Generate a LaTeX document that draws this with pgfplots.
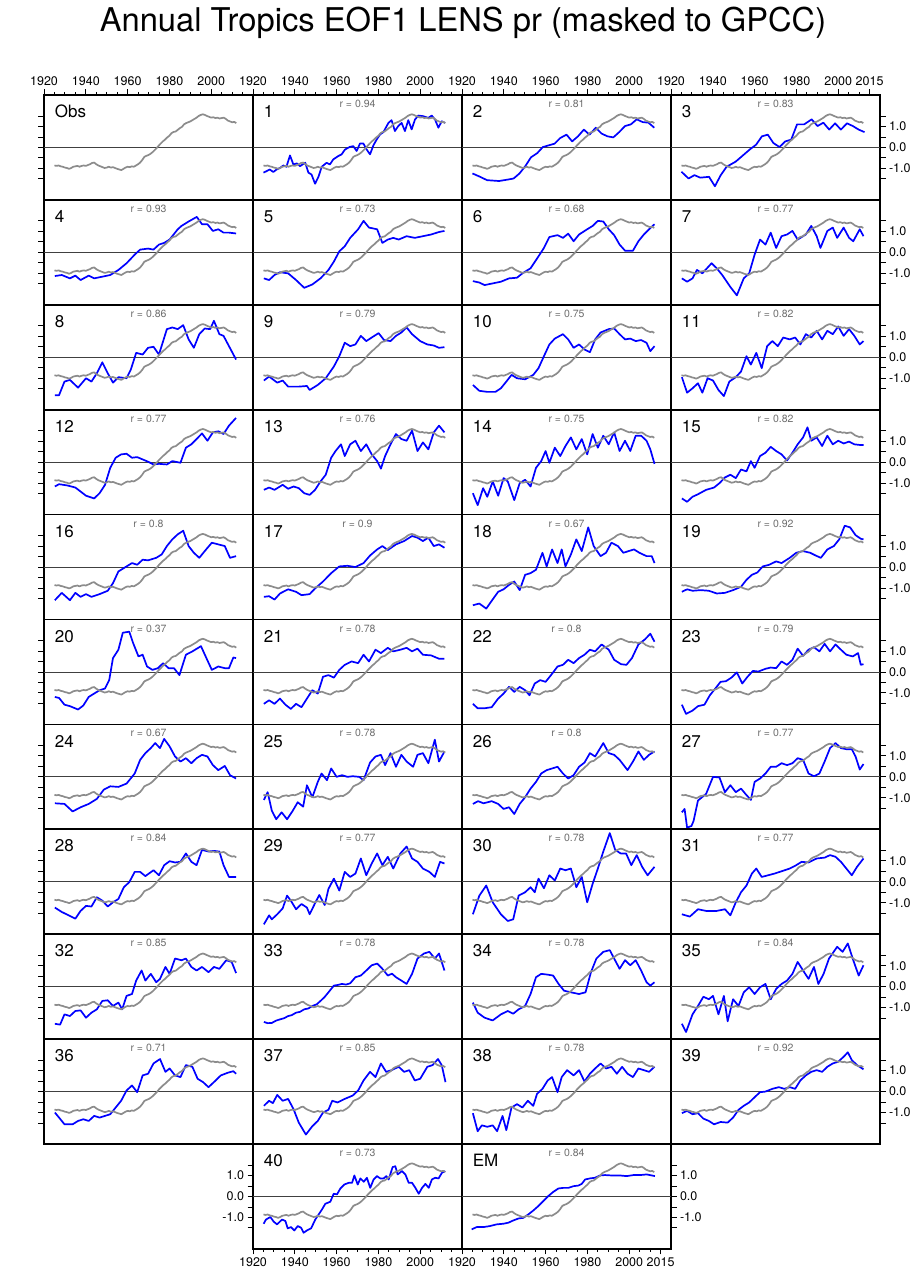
\documentclass[border=0pt]{standalone}
\usepackage{fontspec}
\setmainfont{TeX Gyre Heros}
\usepackage{pgfplots}
\usepackage{pgfplotstable}
\pgfplotsset{compat=1.18}
\definecolor{obsgray}{RGB}{140,140,140}
\definecolor{rgray}{RGB}{110,110,110}
\pgfplotstableread{
x y
1925 -0.86
1926 -0.88
1927 -0.86
1928 -0.90
1929 -0.92
1930 -0.96
1931 -0.98
1932 -1.02
1933 -0.98
1934 -0.92
1935 -0.90
1936 -0.88
1937 -0.92
1938 -0.88
1939 -0.86
1940 -0.88
1941 -0.84
1942 -0.80
1943 -0.74
1944 -0.72
1945 -0.80
1946 -0.86
1947 -0.90
1948 -0.94
1949 -0.98
1950 -0.96
1951 -0.92
1952 -0.96
1953 -0.94
1954 -0.98
1955 -1.02
1956 -1.05
1957 -1.08
1958 -1.02
1959 -0.96
1960 -0.92
1961 -0.94
1962 -0.90
1963 -0.92
1964 -0.86
1965 -0.80
1966 -0.72
1967 -0.60
1968 -0.45
1969 -0.40
1970 -0.36
1971 -0.30
1972 -0.22
1973 -0.12
1974 -0.02
1975 0.10
1976 0.20
1977 0.30
1978 0.38
1979 0.48
1980 0.56
1981 0.68
1982 0.74
1983 0.76
1984 0.84
1985 0.92
1986 0.98
1987 1.10
1988 1.16
1989 1.20
1990 1.24
1991 1.30
1992 1.36
1993 1.42
1994 1.50
1995 1.55
1996 1.58
1997 1.55
1998 1.50
1999 1.46
2000 1.42
2001 1.44
2002 1.40
2003 1.42
2004 1.38
2005 1.40
2006 1.42
2007 1.36
2008 1.28
2009 1.24
2010 1.20
2011 1.22
2012 1.16
}\obs
\pgfplotsset{
 panel/.style={anchor=north west, scale only axis, width=209pt, height=104.9pt,
   xmin=1920, xmax=2020, ymin=-2.5, ymax=2.5,
   axis line style={line width=1.7pt},
   xtick=\empty, ytick=\empty, tick align=outside,
   major tick length=5.5pt, minor tick length=3pt,
   tick style={black, line width=0.9pt},
   ticklabel style={font=\fontsize{12.5}{13}\selectfont},
   /pgf/number format/assume math mode=true},
 topx/.style={xtick={1920,1940,1960,1980,2000}, xticklabels={1920,1940,1960,1980,2000},
   minor xtick={1925,1930,1935,1945,1950,1955,1965,1970,1975,1985,1990,1995,2005,2010,2015},
   xtick pos=right, xticklabel pos=right},
 topxr/.style={xtick={1920,1940,1960,1980,2000,2015}, xticklabels={1920,1940,1960,1980,2000,2015},
   minor xtick={1925,1930,1935,1945,1950,1955,1965,1970,1975,1985,1990,1995,2005,2010},
   xtick pos=right, xticklabel pos=right},
 botx/.style={xtick={1920,1940,1960,1980,2000}, xticklabels={1920,1940,1960,1980,2000},
   minor xtick={1925,1930,1935,1945,1950,1955,1965,1970,1975,1985,1990,1995,2005,2010,2015},
   xtick pos=left, xticklabel pos=left},
 botxr/.style={xtick={1920,1940,1960,1980,2000,2015}, xticklabels={1920,1940,1960,1980,2000,2015},
   minor xtick={1925,1930,1935,1945,1950,1955,1965,1970,1975,1985,1990,1995,2005,2010},
   xtick pos=left, xticklabel pos=left},
 lefty/.style={ytick={-1.5,-1,-0.5,0,0.5,1,1.5}, yticklabels={{},{},{},{},{},{},{}}, ytick pos=left},
 leftylab/.style={ytick={-1.5,-1,-0.5,0,0.5,1,1.5}, yticklabels={{},{-1.0},{},{0.0},{},{1.0},{}}, ytick pos=left, yticklabel pos=left},
 righty/.style={ytick={-1.5,-1,-0.5,0,0.5,1,1.5}, yticklabels={{},{-1.0},{},{0.0},{},{1.0},{}}, ytick pos=right, yticklabel pos=right},
 bl/.style={blue, line width=1.7pt, line join=round},
 ob/.style={obsgray, line width=1.7pt, line join=round},
 zl/.style={black!75, line width=0.8pt},
}
\newcommand{\zline}{\addplot[zl] coordinates {(1920,0) (2020,0)};}
\newcommand{\ptext}[2]{%
 \node[anchor=west, font=\fontsize{17}{18}\selectfont] at (rel axis cs:0.035,0.84) {#1};
 \node[text=rgray, font=\fontsize{10.5}{11}\selectfont] at (rel axis cs:0.5,0.915) {#2};}
\begin{document}
\begin{tikzpicture}
\useasboundingbox (0,0) rectangle (919pt,-1281pt);
\node[font=\fontsize{32.7}{34}\selectfont] at (463pt,-23pt) {Annual Tropics EOF1 LENS pr (masked to GPCC)};
% ---------- row 1
\begin{axis}[panel, at={(44pt,-95pt)}, topx, lefty]
\zline
\addplot[ob] table {\obs};
\ptext{Obs}{}
\end{axis}
\begin{axis}[panel, at={(253pt,-95pt)}, topx]
\zline
\addplot[bl] coordinates {(1925,-1.2)(1926.5,-1.13)(1928,-1.05)(1929.7,-1.17)(1931.3,-1.05)(1933,-0.97)(1934.5,-0.86)(1936,-0.92)(1937.7,-0.38)(1939.3,-0.81)(1941,-0.76)(1942.5,-0.89)(1945,-0.73)(1946.5,-1.2)(1948,-1.29)(1949.7,-1.73)(1951.3,-1.4)(1952.9,-0.92)(1955.2,-0.73)(1956.8,-0.81)(1958.4,-0.57)(1960.8,-0.41)(1962.4,-0.33)(1964,-0.1)(1966.4,0.03)(1968,0.06)(1969.6,-0.17)(1971.2,0.19)(1972.8,0.19)(1974.4,-0.1)(1976,-0.33)(1977.6,0.1)(1979.2,0.38)(1980.8,0.62)(1982.4,0.73)(1984.8,1.17)(1986.3,1.3)(1987.9,0.78)(1989.5,1.02)(1991.1,1.17)(1992.7,0.78)(1994.3,1.3)(1995.9,0.86)(1997.5,1.33)(1999.1,1.52)(2001.5,1.49)(2003.9,1.41)(2005.5,1.52)(2007.1,1.33)(2008.7,0.94)(2010.3,1.25)(2011.9,1.17)};
\addplot[ob] table {\obs};
\ptext{1}{r = 0.94}
\end{axis}
\begin{axis}[panel, at={(462pt,-95pt)}, topx]
\zline
\addplot[bl] coordinates {(1925,-1.24)(1928,-1.37)(1932,-1.56)(1937.7,-1.6)(1942,-1.53)(1944.7,-1.48)(1947.5,-1.24)(1950.3,-0.89)(1953,-0.47)(1956,-0.27)(1958.7,0.02)(1961.5,0.1)(1964.3,0.18)(1967,0.45)(1970,0.61)(1972.7,0.29)(1975.5,0.53)(1978.3,0.85)(1981,0.61)(1984,0.94)(1986.8,0.66)(1989.6,0.53)(1992.4,0.48)(1995.2,0.73)(1998,1.02)(2000.8,1.1)(2003.6,1.34)(2006.4,1.21)(2009.2,1.18)(2012,0.94)};
\addplot[ob] table {\obs};
\ptext{2}{r = 0.81}
\end{axis}
\begin{axis}[panel, at={(671pt,-95pt)}, topxr, righty]
\zline
\addplot[bl] coordinates {(1925,-1.16)(1928.4,-1.48)(1931.2,-1.32)(1934,-1.44)(1938.2,-1.4)(1941,-1.85)(1943.8,-1.32)(1946.6,-0.92)(1950.9,-0.68)(1953.7,-0.44)(1957.9,-0.08)(1960.7,0.13)(1963.5,0.53)(1966.3,0.61)(1969,0.21)(1971.9,0.02)(1974.7,0.29)(1977.5,0.37)(1980.3,1.1)(1983.7,1.1)(1987.3,1.34)(1990.1,1.02)(1992.9,1.18)(1995.7,0.85)(1998.5,1.15)(2001.3,0.85)(2004.2,1.15)(2007,1.02)(2009.8,0.85)(2012.6,0.73)};
\addplot[ob] table {\obs};
\ptext{3}{r = 0.83}
\end{axis}
% ---------- row 2
\begin{axis}[panel, at={(44pt,-199.9pt)}, lefty]
\zline
\addplot[bl] coordinates {(1925.2,-1.13)(1928.5,-1.08)(1932.4,-1.24)(1935,-1.11)(1937.5,-1.32)(1941.4,-1.11)(1944,-1.24)(1947.9,-1.16)(1951.7,-1.08)(1955.6,-0.84)(1959.5,-0.52)(1963.4,-0.11)(1966,0.13)(1969.8,0.18)(1972.4,0.13)(1975,0.37)(1977.5,0.45)(1980.1,0.61)(1984,1.1)(1985.8,1.26)(1989.2,1.47)(1993.1,1.69)(1995.6,1.34)(1998.2,1.34)(2000.8,1.02)(2003.4,1.1)(2005.9,0.94)(2008.5,0.94)(2011.9,0.9)};
\addplot[ob] table {\obs};
\ptext{4}{r = 0.93}
\end{axis}
\begin{axis}[panel, at={(253pt,-199.9pt)}]
\zline
\addplot[bl] coordinates {(1925.2,-1.24)(1927.7,-1.32)(1930.3,-1.08)(1932.9,-0.95)(1936.8,-1.0)(1940.6,-1.32)(1944.5,-1.69)(1948.4,-1.53)(1952.3,-1.24)(1956.1,-0.84)(1958.7,-0.44)(1961.3,0.05)(1963.9,0.29)(1966.5,0.69)(1970.3,1.1)(1972.9,1.5)(1975.5,1.18)(1979.4,1.1)(1981.9,0.45)(1984.5,0.61)(1987.1,0.69)(1989.7,0.61)(1993.5,0.77)(1997.4,0.69)(2001.3,0.77)(2005.2,0.85)(2009,0.97)(2011.6,1.02)};
\addplot[ob] table {\obs};
\ptext{5}{r = 0.73}
\end{axis}
\begin{axis}[panel, at={(462pt,-199.9pt)}]
\zline
\addplot[bl] coordinates {(1925.2,-1.37)(1928.3,-1.44)(1930.8,-1.56)(1934.7,-1.48)(1938.6,-1.4)(1942.5,-1.24)(1946.3,-1.21)(1948.9,-1.0)(1952.8,-0.76)(1956.6,-0.19)(1959.2,0.21)(1961.8,0.73)(1965.7,0.82)(1968.3,0.69)(1970.8,0.89)(1973.4,0.53)(1976,0.85)(1979.9,1.1)(1982.5,1.26)(1985,1.5)(1987.6,1.47)(1990.2,1.1)(1992.8,0.82)(1995.4,0.37)(1998,0.08)(2001.8,0.08)(2004.4,0.53)(2007,0.85)(2009.5,1.1)(2012.1,1.34)};
\addplot[ob] table {\obs};
\ptext{6}{r = 0.68}
\end{axis}
\begin{axis}[panel, at={(671pt,-199.9pt)}, righty]
\zline
\addplot[bl] coordinates {(1925.2,-1.24)(1927.7,-1.4)(1930.3,-1.24)(1932.4,-0.84)(1935,-1.0)(1939.4,-0.52)(1941.9,-0.76)(1944.5,-1.08)(1948.4,-1.65)(1951.5,-2.05)(1954.8,-1.24)(1957.4,-1.0)(1960,-0.11)(1962.6,0.61)(1965.2,0.37)(1967.7,0.94)(1970.3,0.21)(1972.9,0.77)(1975.5,0.85)(1978.1,1.02)(1980.6,0.61)(1984.5,0.85)(1987.1,1.26)(1989.7,0.77)(1991.5,0.21)(1994.8,1.02)(1997.4,1.18)(1999.5,0.69)(2002.6,1.18)(2005.2,0.69)(2007.2,0.53)(2010.3,1.1)(2012.1,0.77)};
\addplot[ob] table {\obs};
\ptext{7}{r = 0.77}
\end{axis}
% ---------- row 3
\begin{axis}[panel, at={(44pt,-304.8pt)}, lefty]
\zline
\addplot[bl] coordinates {(1925.2,-1.81)(1927.2,-1.81)(1929.8,-1.16)(1932.4,-1.08)(1936.3,-1.45)(1940.1,-1.0)(1942.7,-1.16)(1945.3,-0.76)(1947.9,-0.24)(1950.5,-0.76)(1953,-1.21)(1955.6,-0.95)(1959.5,-1.0)(1961.5,-0.6)(1964.1,0.21)(1967.2,0.13)(1969.8,0.45)(1972.4,0.5)(1975,0.13)(1978.8,1.34)(1981.4,1.42)(1984,1.34)(1986.6,1.53)(1989.2,0.85)(1991.7,0.45)(1994.3,1.1)(1996.9,1.37)(1999.5,1.34)(2001.3,1.74)(2003.9,1.1)(2005.9,1.02)(2008.5,0.53)(2011.9,-0.11)};
\addplot[ob] table {\obs};
\ptext{8}{r = 0.86}
\end{axis}
\begin{axis}[panel, at={(253pt,-304.8pt)}]
\zline
\addplot[bl] coordinates {(1925.2,-1.11)(1927.7,-0.92)(1931.6,-1.21)(1934.2,-1.11)(1936.8,-1.4)(1941.9,-1.4)(1945.8,-1.37)(1947.1,-1.56)(1951,-1.32)(1954.8,-1.0)(1958.7,-0.44)(1961.3,0.05)(1963.9,0.69)(1966.5,0.53)(1969,0.61)(1971.6,1.02)(1974.2,0.77)(1976.8,0.94)(1980.1,1.15)(1982.7,0.82)(1985.8,0.77)(1988.4,1.02)(1991,1.18)(1993.5,1.42)(1996.1,1.1)(2000,0.77)(2003.4,0.61)(2006.5,0.56)(2009,0.45)(2011.6,0.48)};
\addplot[ob] table {\obs};
\ptext{9}{r = 0.79}
\end{axis}
\begin{axis}[panel, at={(462pt,-304.8pt)}]
\zline
\addplot[bl] coordinates {(1925.2,-1.32)(1928.3,-1.6)(1932.1,-1.65)(1936,-1.65)(1938.6,-1.48)(1941.2,-1.16)(1943.7,-0.84)(1946.3,-1.0)(1950.2,-1.05)(1954.1,-0.84)(1956.6,-0.52)(1959.2,0.05)(1961.8,0.61)(1964.4,0.89)(1968.3,1.1)(1970.8,0.85)(1973.4,0.45)(1976,0.61)(1978.6,0.37)(1981.2,0.24)(1983.7,0.85)(1986.3,1.18)(1990.2,1.34)(1992.8,1.37)(1995.4,1.1)(1998,0.85)(2000.5,0.89)(2003.1,0.77)(2005.7,0.82)(2008.3,0.69)(2010.1,0.29)(2012.1,0.53)};
\addplot[ob] table {\obs};
\ptext{10}{r = 0.75}
\end{axis}
\begin{axis}[panel, at={(671pt,-304.8pt)}, righty]
\zline
\addplot[bl] coordinates {(1925.2,-0.95)(1927.7,-1.69)(1930.3,-1.48)(1932.9,-1.24)(1935,-1.69)(1937.5,-1.0)(1940.1,-1.11)(1942.7,-1.56)(1945.3,-1.85)(1947.9,-1.16)(1951,-0.95)(1953.5,-0.68)(1956.1,0.05)(1958.2,-0.35)(1960.8,0.21)(1963.4,-0.52)(1966,0.53)(1968.5,0.77)(1971.1,0.53)(1973.7,0.94)(1976.8,0.85)(1979.4,0.94)(1981.9,0.61)(1984.5,1.1)(1987.1,0.94)(1989.7,1.26)(1992.3,0.85)(1994.8,1.26)(1997.4,1.1)(2000,1.47)(2002.6,1.02)(2005.2,1.34)(2007.7,1.02)(2010.3,0.61)(2012.1,0.77)};
\addplot[ob] table {\obs};
\ptext{11}{r = 0.82}
\end{axis}
% ---------- row 4
\begin{axis}[panel, at={(44pt,-409.7pt)}, lefty]
\zline
\addplot[bl] coordinates {(1925.2,-1.16)(1927.2,-1.05)(1931.1,-1.11)(1935,-1.21)(1937.5,-1.4)(1940.1,-1.6)(1944,-1.73)(1946.6,-1.48)(1949.2,-1.08)(1951.7,-0.27)(1954.3,0.21)(1956.9,0.37)(1959.5,0.4)(1962.1,0.21)(1964.6,0.24)(1967.2,0.13)(1969.8,0.02)(1972.4,-0.11)(1975,-0.08)(1978.8,-0.11)(1981.4,0.05)(1985.3,-0.03)(1987.9,0.69)(1990.5,0.85)(1993,1.1)(1995.6,1.37)(1998.2,1.02)(2000.8,1.42)(2003.4,1.47)(2005.9,1.34)(2008.5,1.74)(2011.9,2.11)};
\addplot[ob] table {\obs};
\ptext{12}{r = 0.77}
\end{axis}
\begin{axis}[panel, at={(253pt,-409.7pt)}]
\zline
\addplot[bl] coordinates {(1925.2,-1.32)(1927.7,-1.21)(1930.3,-1.32)(1934.2,-1.08)(1936.8,-1.27)(1939.4,-1.16)(1941.9,-1.24)(1944.5,-1.48)(1947.1,-1.56)(1949.7,-1.32)(1952.3,-0.92)(1954.8,-0.6)(1957.4,0.21)(1959.5,0.53)(1962.1,0.85)(1963.9,0.29)(1966.5,0.85)(1969,1.02)(1971.6,0.53)(1974.2,0.85)(1976.8,0.37)(1979.4,0.05)(1981.2,-0.31)(1983.2,0.29)(1985.8,0.85)(1988.4,1.34)(1991,1.1)(1993.5,1.02)(1996.1,1.5)(1998.7,0.53)(2001.3,0.94)(2003.9,0.61)(2006.5,1.42)(2009,1.74)(2011.6,1.42)};
\addplot[ob] table {\obs};
\ptext{13}{r = 0.76}
\end{axis}
\begin{axis}[panel, at={(462pt,-409.7pt)}]
\zline
\addplot[bl] coordinates {(1925.2,-1.48)(1927.5,-2.05)(1930.1,-1.24)(1932.1,-1.65)(1934.7,-0.92)(1937.3,-1.6)(1939.9,-0.76)(1941.9,-0.92)(1945,-1.81)(1947.6,-1.0)(1950.2,-0.84)(1952.8,-1.16)(1955.4,-0.27)(1957.9,0.05)(1960,0.53)(1961.8,-0.03)(1964.4,0.69)(1967,0.29)(1969.5,0.77)(1972.1,1.18)(1974.7,0.61)(1977.3,1.1)(1979.9,0.37)(1982.5,1.34)(1985,0.69)(1987.6,1.26)(1990.2,0.85)(1992.8,1.42)(1995.4,0.53)(1998,1.02)(2000.5,0.53)(2003.1,1.26)(2005.7,1.26)(2008.3,1.02)(2010.1,0.61)(2012.1,-0.08)};
\addplot[ob] table {\obs};
\ptext{14}{r = 0.75}
\end{axis}
\begin{axis}[panel, at={(671pt,-409.7pt)}, righty]
\zline
\addplot[bl] coordinates {(1925.2,-1.73)(1927.7,-1.89)(1930.3,-1.65)(1932.9,-1.53)(1936.8,-1.32)(1940.6,-1.21)(1943.2,-1.0)(1945.8,-0.73)(1948.4,-0.6)(1951,-0.76)(1953.5,-0.35)(1956.1,-0.44)(1958.2,0.05)(1960,-0.27)(1962.6,0.29)(1965.2,0.45)(1967.7,0.73)(1970.3,0.53)(1972.9,0.37)(1975.5,0.08)(1978.1,0.45)(1980.6,0.85)(1983.2,1.18)(1985.3,1.66)(1987.1,1.02)(1989.7,1.18)(1992.3,0.77)(1994.8,1.26)(1997.4,0.85)(2000,1.02)(2002.6,0.89)(2005.2,0.98)(2007.7,0.85)(2010.3,0.82)(2012.1,0.82)};
\addplot[ob] table {\obs};
\ptext{15}{r = 0.82}
\end{axis}
% ---------- row 5
\begin{axis}[panel, at={(44pt,-514.6pt)}, lefty]
\zline
\addplot[bl] coordinates {(1925.2,-1.58)(1928.5,-1.23)(1932.4,-1.58)(1935,-1.23)(1937.5,-1.42)(1940.1,-1.29)(1942.7,-1.42)(1946.6,-1.29)(1950.5,-1.13)(1953,-0.77)(1955.6,-0.21)(1959.5,0.03)(1962.1,0.19)(1964.6,0.11)(1967.2,0.35)(1969.8,0.32)(1973.7,0.44)(1976.3,0.6)(1978.8,1.0)(1981.4,1.32)(1984,1.56)(1986.6,1.73)(1989.2,1.0)(1991.7,0.68)(1994.3,0.44)(1996.9,0.76)(2000.3,1.16)(2003.4,1.08)(2006.5,1.0)(2009,0.44)(2011.9,0.52)};
\addplot[ob] table {\obs};
\ptext{16}{r = 0.8}
\end{axis}
\begin{axis}[panel, at={(253pt,-514.6pt)}]
\zline
\addplot[bl] coordinates {(1925.2,-1.42)(1927.7,-1.39)(1930.3,-1.55)(1932.9,-1.26)(1936.8,-1.06)(1940.6,-1.18)(1943.2,-1.34)(1947.1,-1.29)(1949.7,-1.02)(1953.5,-0.69)(1957.4,-0.29)(1961.3,0.03)(1965.2,0.06)(1969,0.0)(1972.9,0.19)(1976,0.55)(1979.4,0.84)(1981.9,1.0)(1984.5,0.81)(1988.4,1.08)(1992.3,1.24)(1996.1,1.48)(1998.7,1.4)(2001.3,1.24)(2003.9,1.4)(2006.5,1.0)(2009,1.08)(2011.6,0.92)};
\addplot[ob] table {\obs};
\ptext{17}{r = 0.9}
\end{axis}
\begin{axis}[panel, at={(462pt,-514.6pt)}]
\zline
\addplot[bl] coordinates {(1925.2,-1.82)(1928.3,-1.74)(1931.6,-1.98)(1934.2,-1.61)(1937.3,-1.18)(1939.9,-1.06)(1942.5,-0.85)(1945,-0.69)(1947.6,-1.1)(1950.2,-0.37)(1952.8,-0.29)(1955.4,-0.13)(1958.5,0.68)(1960.5,0.03)(1963.1,0.84)(1965.7,0.19)(1967.7,0.84)(1969.5,0.03)(1972.1,0.6)(1974.7,1.32)(1977.3,0.76)(1980.4,1.89)(1983,1.0)(1986.3,0.52)(1988.9,0.68)(1991.5,1.16)(1994.6,1.0)(1997.2,0.68)(1999.7,0.76)(2002.3,0.84)(2004.9,0.68)(2008.3,0.52)(2010.8,0.52)(2012.1,0.19)};
\addplot[ob] table {\obs};
\ptext{18}{r = 0.67}
\end{axis}
\begin{axis}[panel, at={(671pt,-514.6pt)}, righty]
\zline
\addplot[bl] coordinates {(1925.2,-1.18)(1927.7,-1.06)(1930.3,-1.13)(1934.2,-1.1)(1938.1,-1.13)(1941.9,-1.26)(1945.8,-1.23)(1949.7,-1.1)(1953.5,-0.94)(1956.1,-0.61)(1958.7,-0.37)(1961.3,-0.26)(1963.9,0.03)(1967,0.11)(1970.3,0.27)(1972.9,0.19)(1976.8,0.44)(1979.9,0.68)(1983.2,0.76)(1986.6,0.68)(1989.2,0.55)(1991.7,0.44)(1994.8,0.84)(1997.9,1.0)(2000.5,1.32)(2003.1,1.97)(2005.7,1.89)(2008.3,1.52)(2010.8,1.35)(2012.1,1.32)};
\addplot[ob] table {\obs};
\ptext{19}{r = 0.92}
\end{axis}
% ---------- row 6
\begin{axis}[panel, at={(44pt,-619.5pt)}, lefty]
\zline
\addplot[bl] coordinates {(1925.2,-1.19)(1927.2,-1.24)(1929.8,-1.56)(1932.4,-1.63)(1936.3,-1.79)(1938.8,-1.6)(1941.4,-1.19)(1944,-1.03)(1946.6,-0.87)(1949.2,-0.79)(1951.2,-0.39)(1953,0.66)(1955.6,1.06)(1957.7,1.87)(1960.8,1.92)(1962.6,1.39)(1965.2,0.74)(1967.2,0.82)(1969.3,0.26)(1971.9,0.1)(1974.5,0.18)(1977,0.42)(1979.6,0.18)(1982.2,0.18)(1984.8,-0.15)(1987.9,0.82)(1991,0.98)(1995.1,1.23)(1997.7,0.66)(2000.3,0.1)(2003.4,0.26)(2006.5,0.18)(2008.5,0.18)(2010.6,0.69)(2011.9,0.66)};
\addplot[ob] table {\obs};
\ptext{20}{r = 0.37}
\end{axis}
\begin{axis}[panel, at={(253pt,-619.5pt)}]
\zline
\addplot[bl] coordinates {(1925.2,-1.52)(1927.7,-1.35)(1930.3,-1.52)(1932.9,-1.27)(1935.5,-1.56)(1938.1,-1.76)(1940.6,-1.52)(1943.2,-1.68)(1945.8,-1.27)(1948.4,-0.87)(1951,-1.03)(1953.5,-0.23)(1956.1,-0.15)(1958.7,-0.27)(1961.3,0.1)(1963.9,0.34)(1967.2,0.5)(1970.3,0.42)(1972.9,0.82)(1975.5,0.5)(1978.6,1.06)(1981.2,0.9)(1984.5,1.15)(1987.1,0.98)(1990.5,1.06)(1993.5,1.15)(1996.1,0.98)(1998.7,1.11)(2001.3,0.82)(2005.2,0.79)(2009,0.63)(2011.6,0.63)};
\addplot[ob] table {\obs};
\ptext{21}{r = 0.78}
\end{axis}
\begin{axis}[panel, at={(462pt,-619.5pt)}]
\zline
\addplot[bl] coordinates {(1925.2,-1.52)(1927.5,-1.73)(1930.8,-1.73)(1934.2,-1.68)(1937.3,-1.27)(1939.9,-1.03)(1942.5,-0.71)(1945,-0.95)(1947.6,-0.71)(1950.2,-0.87)(1952.3,-1.11)(1954.8,-0.55)(1957.4,-0.39)(1960,-0.47)(1962.6,-0.15)(1965.7,0.26)(1968.3,0.34)(1970.8,0.58)(1973.4,0.42)(1976,0.66)(1978.6,0.82)(1981.2,1.06)(1983.7,0.98)(1986.8,1.31)(1990.2,1.06)(1992.8,0.58)(1996.1,0.37)(1998.7,0.34)(2001.3,0.66)(2004.4,1.31)(2007.5,1.55)(2010.1,1.82)(2012.1,1.44)};
\addplot[ob] table {\obs};
\ptext{22}{r = 0.8}
\end{axis}
\begin{axis}[panel, at={(671pt,-619.5pt)}, righty]
\zline
\addplot[bl] coordinates {(1925.2,-1.56)(1927.2,-2.0)(1930.3,-1.84)(1932.9,-1.63)(1936,-1.56)(1938.6,-1.11)(1941.2,-0.79)(1943.7,-0.47)(1946.3,-0.44)(1948.9,-0.27)(1951.5,-0.02)(1954.1,-0.55)(1956.6,-0.23)(1959.2,0.05)(1961.8,0.02)(1965.2,0.15)(1967.7,0.21)(1970.3,0.18)(1972.9,0.5)(1975.5,0.34)(1978.1,0.58)(1980.6,1.11)(1983.2,0.77)(1985.8,1.06)(1988.4,1.18)(1991,0.98)(1993.5,1.34)(1996.1,0.98)(1998.7,1.31)(2001.3,1.06)(2003.9,0.82)(2007,0.74)(2009.5,0.9)(2010.8,0.34)(2012.1,0.37)};
\addplot[ob] table {\obs};
\ptext{23}{r = 0.79}
\end{axis}
% ---------- row 7
\begin{axis}[panel, at={(44pt,-724.4pt)}, lefty]
\zline
\addplot[bl] coordinates {(1925.2,-1.26)(1929.8,-1.29)(1933.7,-1.65)(1937.5,-1.45)(1941.4,-1.29)(1945.3,-1.05)(1948.6,-0.61)(1951.7,-0.45)(1955.6,-0.48)(1959.5,-0.32)(1963.4,0.16)(1966,0.81)(1968.5,1.13)(1971.1,1.37)(1973.2,1.61)(1975.5,1.37)(1977.5,1.81)(1980.1,1.45)(1982.7,0.97)(1985.3,0.73)(1987.9,0.89)(1990.5,0.65)(1993,0.89)(1995.6,1.05)(1998.2,0.97)(2000.8,0.56)(2003.4,0.32)(2006.5,0.52)(2009,0.08)(2011.9,-0.08)};
\addplot[ob] table {\obs};
\ptext{24}{r = 0.67}
\end{axis}
\begin{axis}[panel, at={(253pt,-724.4pt)}]
\zline
\addplot[bl] coordinates {(1925.2,-1.1)(1927,-0.73)(1929,-1.61)(1931.1,-2.02)(1933.7,-1.69)(1936.3,-2.02)(1938.8,-1.65)(1941.4,-1.21)(1944,-1.42)(1945.8,-0.4)(1948.4,-0.97)(1951,-0.24)(1952.8,0.16)(1955.4,-0.16)(1957.4,0.4)(1960,0.0)(1962.6,0.08)(1965.2,0.0)(1967.7,0.03)(1970.8,0.0)(1972.9,-0.16)(1976,0.68)(1978.6,0.97)(1981.2,1.05)(1983.2,0.56)(1985.8,1.13)(1988.4,0.48)(1991,1.05)(1993.5,0.73)(1996.6,0.48)(1998.7,1.05)(2001.3,1.13)(2003.9,0.65)(2007,1.77)(2009,0.73)(2011.6,1.21)};
\addplot[ob] table {\obs};
\ptext{25}{r = 0.78}
\end{axis}
\begin{axis}[panel, at={(462pt,-724.4pt)}]
\zline
\addplot[bl] coordinates {(1925.2,-1.29)(1927.7,-1.16)(1930.3,-1.26)(1934.2,-1.16)(1937.3,-1.29)(1939.9,-1.53)(1942.5,-1.45)(1945,-1.77)(1947.6,-1.29)(1950.2,-0.97)(1952.8,-0.56)(1955.4,-0.24)(1957.9,0.16)(1960.5,0.32)(1963.1,0.4)(1965.7,0.48)(1968.3,0.16)(1970.8,-0.08)(1973.4,0.08)(1976,0.48)(1978.6,0.68)(1981.2,1.13)(1983.7,0.97)(1987.6,1.61)(1990.2,1.13)(1992.8,1.05)(1995.4,0.81)(1999.2,0.32)(2001.8,0.73)(2004.4,1.21)(2007,0.81)(2009.5,1.05)(2012.1,1.21)};
\addplot[ob] table {\obs};
\ptext{26}{r = 0.8}
\end{axis}
\begin{axis}[panel, at={(671pt,-724.4pt)}, righty]
\zline
\addplot[bl] coordinates {(1925.2,-1.69)(1926.5,-1.53)(1927.7,-2.42)(1929.8,-2.34)(1930.8,-2.1)(1932.9,-1.13)(1936.8,-0.81)(1940.1,0.0)(1943.2,-0.03)(1945.8,-0.73)(1948.4,-0.4)(1951,-0.73)(1953.5,-0.56)(1955.6,-0.81)(1958.2,-1.1)(1960,-0.24)(1962.6,-0.08)(1965.2,0.16)(1967.7,0.48)(1970.3,0.48)(1972.9,0.65)(1975.5,0.56)(1978.1,0.65)(1980.6,0.89)(1983.2,0.81)(1985.8,0.16)(1988.4,0.03)(1991,0.16)(1993.5,0.73)(1996.1,1.37)(1998.7,1.61)(2001.3,1.37)(2003.9,1.32)(2006.5,1.32)(2008.3,0.97)(2010.3,0.35)(2012.1,0.61)};
\addplot[ob] table {\obs};
\ptext{27}{r = 0.77}
\end{axis}
% ---------- row 8
\begin{axis}[panel, at={(44pt,-829.3pt)}, lefty]
\zline
\addplot[bl] coordinates {(1925.2,-1.23)(1928.5,-1.44)(1932.4,-1.63)(1935,-1.76)(1937.5,-1.39)(1940.1,-1.15)(1942.7,-1.18)(1945.3,-0.74)(1947.9,-0.9)(1950.5,-1.18)(1953,-0.98)(1955.6,-0.82)(1958.2,-0.26)(1960.8,-0.02)(1963.4,0.47)(1966,0.47)(1968.5,0.27)(1972.4,0.55)(1975,0.31)(1977.5,0.79)(1980.1,0.98)(1982.7,0.92)(1985.3,0.95)(1987.9,1.35)(1990.5,0.95)(1993,0.79)(1995.6,1.52)(1998.7,1.44)(2001.3,1.47)(2003.9,1.44)(2005.9,0.79)(2008.5,0.23)(2011.9,0.23)};
\addplot[ob] table {\obs};
\ptext{28}{r = 0.84}
\end{axis}
\begin{axis}[panel, at={(253pt,-829.3pt)}]
\zline
\addplot[bl] coordinates {(1925.2,-2.03)(1927.7,-1.6)(1929,-1.79)(1931.6,-1.55)(1934.2,-1.27)(1936.3,-0.66)(1938.1,-0.9)(1940.6,-1.31)(1943.2,-1.06)(1945.8,-1.23)(1947.1,-1.55)(1949.7,-1.02)(1951.7,-0.63)(1954.3,-1.11)(1956.1,-0.34)(1958.7,0.15)(1961.3,-0.42)(1963.9,0.47)(1966.5,0.23)(1969,0.39)(1971.6,1.11)(1974.2,0.31)(1976.8,0.87)(1979.4,1.35)(1981.9,0.79)(1984.5,1.19)(1987.1,0.63)(1990.5,1.35)(1993.5,1.68)(1996.1,1.11)(1998.7,0.95)(2001.3,0.63)(2004.4,0.47)(2007,0.23)(2009.5,0.95)(2011.6,0.87)};
\addplot[ob] table {\obs};
\ptext{29}{r = 0.77}
\end{axis}
\begin{axis}[panel, at={(462pt,-829.3pt)}]
\zline
\addplot[bl] coordinates {(1925.2,-1.55)(1928.3,-0.66)(1931.6,-0.18)(1934.7,-0.98)(1938.6,-1.55)(1941.9,-1.87)(1944.5,-1.79)(1947.1,-0.66)(1950.2,-0.5)(1952.8,-0.26)(1954.8,-0.5)(1956.6,0.15)(1959.2,-0.31)(1961.8,0.31)(1964.4,0.06)(1967,0.63)(1969.5,0.55)(1972.1,0.63)(1974.7,-0.26)(1977.3,0.23)(1979.9,-0.98)(1982.5,-0.1)(1985,0.63)(1987.6,1.44)(1990.7,2.32)(1993.3,1.52)(1995.9,1.35)(1998.5,1.35)(2001,0.79)(2003.6,1.27)(2006.2,0.71)(2008.8,0.31)(2012.1,0.71)};
\addplot[ob] table {\obs};
\ptext{30}{r = 0.78}
\end{axis}
\begin{axis}[panel, at={(671pt,-829.3pt)}, righty]
\zline
\addplot[bl] coordinates {(1925.2,-1.55)(1929,-1.66)(1932.9,-1.31)(1936.8,-1.39)(1941.9,-1.39)(1945.8,-1.31)(1948.4,-1.6)(1951,-0.98)(1953.5,-0.5)(1956.1,-0.18)(1958.7,0.39)(1960.8,0.63)(1963.4,0.23)(1966.5,0.31)(1969.5,0.39)(1972.9,0.5)(1976.8,0.63)(1979.4,0.76)(1982.5,0.95)(1985.8,0.92)(1989.7,1.11)(1993.5,1.15)(1996.1,1.27)(1998.7,1.19)(2001.3,0.95)(2003.9,0.63)(2006.5,0.31)(2009,0.71)(2012.1,1.11)};
\addplot[ob] table {\obs};
\ptext{31}{r = 0.77}
\end{axis}
% ---------- row 9
\begin{axis}[panel, at={(44pt,-934.2pt)}, lefty]
\zline
\addplot[bl] coordinates {(1925.2,-1.77)(1927.7,-1.81)(1929.8,-1.32)(1932.4,-1.4)(1935,-1.16)(1937.5,-1.13)(1940.1,-1.48)(1942.7,-1.24)(1945.3,-1.08)(1947.9,-0.68)(1950.5,-0.65)(1953,-0.92)(1955.6,-0.76)(1957.4,-1.08)(1959.5,-0.44)(1962.1,-0.35)(1964.1,0.29)(1966.7,0.77)(1968.5,0.29)(1971.1,0.61)(1973.7,0.21)(1975.5,0.37)(1978.1,0.94)(1980.1,0.61)(1982.7,1.34)(1985.8,1.26)(1987.9,1.34)(1990.5,0.94)(1993,0.77)(1995.6,0.94)(1998.7,0.69)(2001.3,0.94)(2003.9,0.85)(2007.2,1.26)(2009.8,1.18)(2011.9,0.65)};
\addplot[ob] table {\obs};
\ptext{32}{r = 0.85}
\end{axis}
\begin{axis}[panel, at={(253pt,-934.2pt)}]
\zline
\addplot[bl] coordinates {(1925.2,-1.68)(1927,-1.74)(1929,-1.73)(1931,-1.62)(1932.9,-1.56)(1935,-1.5)(1936.8,-1.4)(1938.5,-1.36)(1940.6,-1.24)(1942.5,-1.2)(1944.5,-1.08)(1946.5,-1.04)(1948.4,-0.92)(1950.5,-0.84)(1952.3,-0.68)(1954.2,-0.5)(1956.1,-0.27)(1958.7,0.05)(1960.5,0.08)(1962.6,0.13)(1964.5,0.1)(1966.5,0.16)(1969,0.45)(1971.6,0.53)(1974.2,0.77)(1976.8,1.02)(1979.4,1.1)(1981.9,0.85)(1984.5,0.53)(1986.5,0.62)(1988.4,0.45)(1991,0.29)(1993.5,0.13)(1996.1,0.61)(1998.7,1.34)(2001.8,1.58)(2004.4,1.66)(2007,1.34)(2009,1.58)(2011.6,0.77)};
\addplot[ob] table {\obs};
\ptext{33}{r = 0.78}
\end{axis}
\begin{axis}[panel, at={(462pt,-934.2pt)}]
\zline
\addplot[bl] coordinates {(1925.2,-0.76)(1927.5,-1.24)(1930.8,-1.48)(1934.7,-1.61)(1938.6,-1.32)(1941.9,-1.16)(1944.5,-1.29)(1947.1,-1.08)(1950.2,-0.92)(1952.8,-0.35)(1955.4,0.45)(1957.9,0.61)(1960.5,0.58)(1963.6,0.53)(1966.2,0.13)(1968.8,-0.19)(1972.1,-0.27)(1976,-0.35)(1979.1,-0.27)(1981.7,0.69)(1984.3,1.34)(1987.6,1.66)(1990.7,1.74)(1992.8,1.34)(1995.4,0.85)(1998,1.26)(2000.5,1.02)(2003.1,1.26)(2005.7,0.77)(2008.3,0.21)(2010.1,0.05)(2012.1,0.21)};
\addplot[ob] table {\obs};
\ptext{34}{r = 0.78}
\end{axis}
\begin{axis}[panel, at={(671pt,-934.2pt)}, righty]
\zline
\addplot[bl] coordinates {(1925.2,-1.77)(1927.2,-2.16)(1930.3,-1.32)(1932.9,-0.92)(1935.5,-0.48)(1938.1,-0.6)(1940.1,-0.44)(1942.7,-1.32)(1945.3,-0.44)(1947.1,-1.65)(1949.7,-0.6)(1952.3,-0.92)(1954.8,-0.27)(1957.4,-0.03)(1960,-0.35)(1962.6,-0.03)(1965.2,0.13)(1967.7,-0.6)(1970.3,-0.11)(1972.9,0.13)(1975.5,0.29)(1978.1,0.61)(1980.6,1.18)(1983.2,0.77)(1985.8,0.37)(1988.4,0.94)(1990.5,0.13)(1993,0.61)(1995.6,1.34)(1999.5,1.9)(2002.1,1.66)(2004.6,2.06)(2007.2,1.26)(2009.8,0.53)(2012.1,1.02)};
\addplot[ob] table {\obs};
\ptext{35}{r = 0.84}
\end{axis}
% ---------- row 10
\begin{axis}[panel, at={(44pt,-1039.1pt)}, lefty]
\zline
\addplot[bl] coordinates {(1925.2,-1.0)(1927.2,-1.24)(1929.8,-1.56)(1933.7,-1.56)(1936.3,-1.4)(1938.8,-1.32)(1941.4,-1.4)(1944,-1.16)(1946.6,-1.24)(1949.2,-1.16)(1951.7,-1.08)(1954.3,-0.76)(1956.9,-0.44)(1959.5,0.05)(1962.1,0.29)(1964.6,-0.03)(1967.2,0.77)(1969.8,0.85)(1972.4,1.34)(1975.5,1.55)(1978.1,0.94)(1980.1,1.1)(1982.7,0.77)(1985.3,0.69)(1987.9,1.26)(1991,1.18)(1993.5,0.61)(1996.1,0.45)(1998.7,0.21)(2001.3,0.45)(2004.6,0.77)(2008,0.9)(2010.6,0.97)(2011.9,0.85)};
\addplot[ob] table {\obs};
\ptext{36}{r = 0.71}
\end{axis}
\begin{axis}[panel, at={(253pt,-1039.1pt)}]
\zline
\addplot[bl] coordinates {(1925.2,-0.68)(1927.7,-0.44)(1929.5,-0.55)(1931.6,-0.16)(1934.2,-0.44)(1936.8,-0.35)(1939.4,-0.84)(1941.9,-1.48)(1945.3,-2.05)(1948.4,-1.65)(1951,-1.4)(1953.5,-1.0)(1956.1,-0.87)(1957.9,-0.44)(1960.5,-0.52)(1963.9,-0.35)(1967.7,-0.19)(1970.3,0.05)(1972.9,0.53)(1976,0.94)(1978.6,0.69)(1981.2,1.34)(1983.7,0.94)(1986.3,1.02)(1989.7,1.18)(1992.3,0.94)(1994.8,1.02)(1997.4,0.53)(2000,0.61)(2003.4,1.18)(2005.9,1.26)(2008.5,1.55)(2010.3,1.26)(2012.1,0.45)};
\addplot[ob] table {\obs};
\ptext{37}{r = 0.85}
\end{axis}
\begin{axis}[panel, at={(462pt,-1039.1pt)}]
\zline
\addplot[bl] coordinates {(1925.2,-1.03)(1927.5,-1.89)(1929.5,-1.61)(1932.1,-1.68)(1934.7,-1.61)(1936.8,-1.89)(1939.4,-1.16)(1941.2,-1.84)(1943.7,-0.76)(1946.3,-0.6)(1948.9,-0.76)(1951.5,-0.44)(1954.1,-0.68)(1955.9,-0.11)(1958.5,0.13)(1961,0.53)(1963.1,0.69)(1965.7,-0.03)(1967.7,0.69)(1970.3,1.02)(1973.4,0.77)(1976,1.02)(1978.6,0.48)(1981.2,0.85)(1983.7,1.1)(1986.3,1.34)(1988.9,1.1)(1991.5,1.18)(1994.1,0.85)(1996.6,1.18)(1999.2,0.85)(2001.8,0.69)(2004.4,1.1)(2007,1.02)(2009.5,0.94)(2012.1,1.18)};
\addplot[ob] table {\obs};
\ptext{38}{r = 0.78}
\end{axis}
\begin{axis}[panel, at={(671pt,-1039.1pt)}, righty]
\zline
\addplot[bl] coordinates {(1925.2,-1.03)(1927.7,-0.92)(1930.3,-1.08)(1932.9,-1.03)(1935.5,-1.29)(1938.1,-1.4)(1940.6,-1.56)(1943.7,-1.45)(1947.1,-1.48)(1949.7,-1.24)(1952.3,-0.87)(1954.8,-0.68)(1957.4,-0.52)(1960,-0.27)(1962.6,-0.03)(1965.2,0.0)(1968.5,0.13)(1971.6,0.21)(1974.2,0.13)(1976.8,0.21)(1979.4,0.13)(1981.9,0.53)(1984.5,0.77)(1987.1,0.94)(1989.7,1.02)(1992.3,0.94)(1994.8,1.18)(1997.4,1.34)(2000,1.42)(2002.6,1.66)(2004.6,1.87)(2006.5,1.5)(2009,1.26)(2012.1,1.06)};
\addplot[ob] table {\obs};
\ptext{39}{r = 0.92}
\end{axis}
% ---------- row 11
\begin{axis}[panel, at={(253pt,-1144pt)}, leftylab, botx]
\zline
\addplot[bl] coordinates {(1925.1,-1.3)(1926.2,-1.1)(1928.3,-0.98)(1929.9,-1.2)(1931.5,-1.33)(1933.9,-1.1)(1935.5,-1.17)(1936.6,-1.52)(1938.2,-1.46)(1939.8,-1.62)(1941.4,-1.41)(1943,-1.49)(1944.2,-1.73)(1945.8,-1.62)(1947.8,-1.52)(1949.8,-1.1)(1951.4,-0.86)(1953,-0.62)(1954.6,-0.35)(1957,-0.25)(1958.6,0.13)(1960.2,0.1)(1961.8,0.38)(1963.7,0.57)(1965.8,0.65)(1967.4,0.65)(1968.5,1.0)(1970.1,0.57)(1971.4,0.86)(1973,0.7)(1974.5,0.89)(1976.1,0.41)(1977.7,0.81)(1979.3,0.97)(1980.9,0.86)(1982.5,0.86)(1983.8,0.97)(1984.9,0.81)(1986.8,1.4)(1988.1,1.44)(1989.2,1.05)(1991.3,1.21)(1992.9,1.05)(1994.5,0.65)(1996.1,0.65)(1997.7,0.41)(1999.3,0.13)(2000.9,0.41)(2002.5,0.6)(2004.1,0.41)(2005.6,0.81)(2007.2,0.89)(2008.8,0.86)(2010.4,1.13)(2012,1.21)};
\addplot[ob] table {\obs};
\ptext{40}{r = 0.73}
\end{axis}
\begin{axis}[panel, at={(462pt,-1144pt)}, righty, botxr]
\zline
\addplot[bl] coordinates {(1924.6,-1.57)(1927,-1.46)(1930.2,-1.46)(1933.4,-1.41)(1936.6,-1.33)(1939.8,-1.3)(1942.2,-1.25)(1944.6,-1.14)(1947,-1.05)(1949.3,-1.02)(1951.7,-0.86)(1954.1,-0.67)(1956.5,-0.46)(1958.9,-0.22)(1961.3,0.02)(1963.7,0.22)(1966.1,0.38)(1968.5,0.41)(1970.9,0.41)(1973.3,0.49)(1975.7,0.52)(1977.3,0.6)(1978.9,0.81)(1981.2,0.86)(1983.6,0.89)(1986,1.0)(1988.4,1.02)(1991.6,1.0)(1995.6,1.0)(1998.8,0.97)(2002,1.02)(2005.2,1.02)(2008.4,1.05)(2012.3,0.97)};
\addplot[ob] table {\obs};
\ptext{EM}{r = 0.84}
\end{axis}
\end{tikzpicture}
\end{document}
